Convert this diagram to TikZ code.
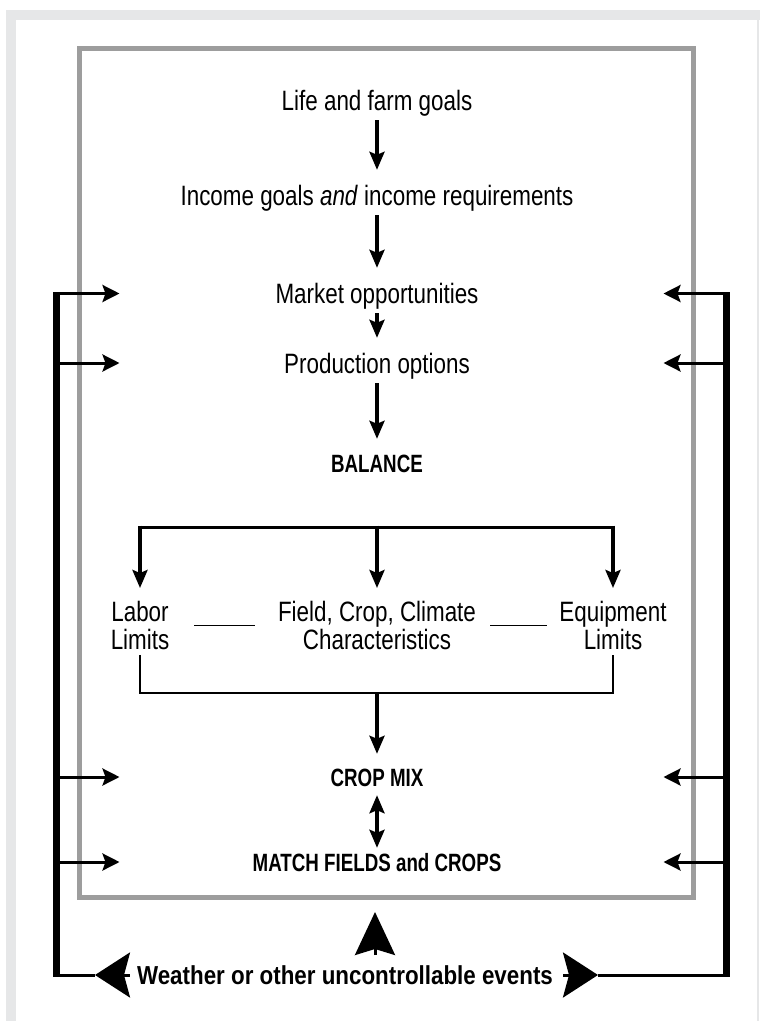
\documentclass[tikz,border=0pt]{standalone}
\usepackage{fontspec}
\setmainfont{Liberation Sans}[FakeStretch=0.8]
\newfontfamily\headfont{Liberation Sans}[FakeStretch=0.75]
\newfontfamily\eventfont{Liberation Sans}[FakeStretch=0.86]
\usetikzlibrary{arrows.meta}
\definecolor{framegray}{HTML}{E6E7E8}
\definecolor{boxgray}{HTML}{9D9D9D}

\begin{document}
\begin{tikzpicture}[x=1pt,y=-1pt]
        \tikzset{stage/.style={font=\fontsize{28}{28}\selectfont, inner sep=0pt,
                text height=20pt, text depth=6pt, anchor=base},
            headline/.style={stage, font=\headfont\bfseries\fontsize{25}{28}\selectfont,
                text height=18pt, text depth=5pt},
            limit/.style={font=\fontsize{28}{28}\selectfont, inner sep=0pt, align=center, anchor=north},
            flow/.style={line width=3.5pt, -{Stealth[length=18pt,width=15pt,inset=3pt]},
                shorten <=4pt, shorten >=15pt},
            feed/.style={line width=3pt, -{Stealth[length=17pt,width=17pt,inset=3pt]}},
            loopline/.style={line width=7pt},
            bar/.style={line width=3pt},
            bracket/.style={line width=1.5pt},
            bigtip/.style={line width=3pt, -{Stealth[length=35pt,width=45pt,inset=6pt]}},
            uptip/.style={line width=3pt, -{Stealth[length=43pt,width=40pt,inset=6pt]}}}
        \useasboundingbox (0,0) rectangle (760,1021);
        \fill[white] (0,0) rectangle (760,1021);
        % light frame and grey box
        \fill[framegray] (6,10) rectangle (760,20);
        \fill[framegray] (6,10) rectangle (16,1021);
        \draw[framegray, line width=1.5pt] (758,20) -- (758,1021);
        \draw[boxgray, line width=5pt] (79.5,48.5) rectangle (693.5,897.5);
        % main column
        \node[stage] (life) at (377,110) {Life and farm goals};
        \node[stage] (income) at (377,205) {Income goals \textit{and} income requirements};
        \node[stage] (market) at (377,303) {Market opportunities};
        \node[stage] (prod) at (377,373) {Production options};
        \node[headline] (balance) at (377,472) {BALANCE};
        \node[limit] (labor) at (140,601) {Labor\\Limits};
        \node[limit] (field) at (377,601) {Field, Crop, Climate\\Characteristics};
        \node[limit] (equip) at (613,601) {Equipment\\Limits};
        \node[headline] (cropmix) at (377,786) {CROP MIX};
        \node[headline] (match) at (377,871) {MATCH FIELDS and CROPS};
        \node[headline, font=\eventfont\bfseries\fontsize{26}{28}\selectfont] (weather)
            at (345,984) {Weather or other uncontrollable events};
        \draw[flow] (life) -- (income);
        \draw[flow] (income) -- (market);
        \draw[flow] (market) -- (prod);
        \draw[flow] (prod) -- (balance);
        % split to the three limits
        \coordinate (split) at (377,527);
        \draw[bar] (labor.north |- split) -- (equip.north |- split);
        \draw[flow, shorten <=-1.5pt, shorten >=13pt] (split) -- (field.north);
        \draw[flow, shorten <=-1.5pt, shorten >=13pt] (labor.north |- split) -- (labor.north);
        \draw[flow, shorten <=-1.5pt, shorten >=13pt] (equip.north |- split) -- (equip.north);
        \draw[bracket, shorten <=25pt, shorten >=23pt] (labor.east) -- (field.west);
        \draw[bracket, shorten <=14pt, shorten >=12pt] (field.east) -- (equip.west);
        % join to crop mix
        \coordinate (join) at (377,693);
        \draw[bracket] ([yshift=-5pt]labor.south) -- (labor.south |- join)
            -- (equip.south |- join) -- ([yshift=-5pt]equip.south);
        \draw[flow, shorten <=0pt, shorten >=14pt] (join) -- (cropmix);
        \draw[flow, <->, >={Stealth[length=18pt,width=15pt,inset=3pt]}, shorten >=5pt]
            (cropmix) -- (match);
        % feedback loops
        \draw[loopline] (56.5,292) -- (56.5,977);
        \draw[loopline] (726.5,292) -- (726.5,977);
        \foreach \row/\yy in {market/293.5, prod/363, mix/777, match/862} {
            \coordinate (L\row) at (56.5,\yy);
            \coordinate (R\row) at (726.5,\yy);
            \draw[feed] (L\row) -- ++(63,0);
            \draw[feed] (R\row) -- ++(-63,0);
        }
        \coordinate (Lbot) at (56.5,975);
        \coordinate (Ltip) at (95,975);
        \coordinate (Rbot) at (726.5,975);
        \coordinate (Rtip) at (598,975);
        \draw[bar] (Lbot) -- (Ltip);
        \draw[bar] (Rbot) -- (Rtip);
        \draw[bigtip] ([xshift=-7pt]weather.west |- Ltip) -- (Ltip);
        \draw[bigtip] ([xshift=10pt]weather.east |- Rtip) -- (Rtip);
        \coordinate (uptop) at (375,912);
        \draw[uptip] ([yshift=-43pt]uptop) -- (uptop);
\end{tikzpicture}
\end{document}
